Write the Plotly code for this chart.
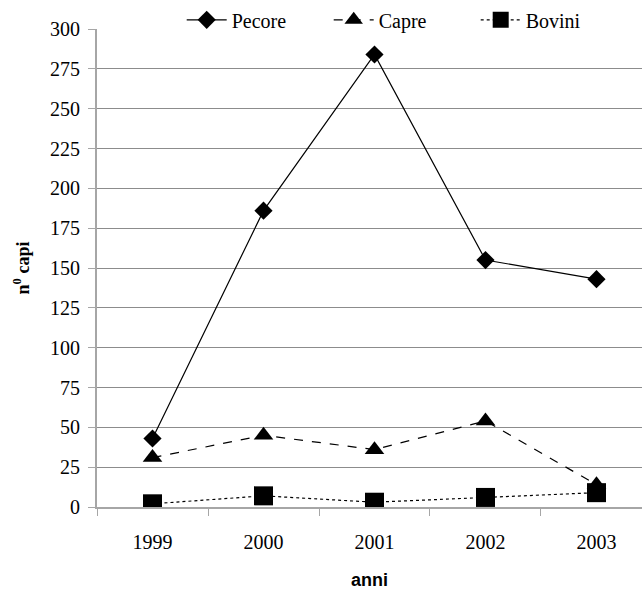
import plotly.graph_objects as go

anni = ["1999", "2000", "2001", "2002", "2003"]
pecore = [43, 186, 284, 155, 143]
capre = [31, 45, 36, 54, 14]
bovini = [2, 7, 3, 6, 9]

serif = "'Liberation Serif', 'Times New Roman', serif"
sans = "'Liberation Sans', Arial, sans-serif"

fig = go.Figure()
fig.add_trace(go.Scatter(
    x=anni, y=pecore, name="Pecore", mode="lines+markers",
    line=dict(color="black", width=1.2, dash="solid"),
    marker=dict(symbol="diamond", size=14, color="black"),
))
fig.add_trace(go.Scatter(
    x=anni, y=capre, name="Capre", mode="lines+markers",
    line=dict(color="black", width=1.2, dash="dash"),
    marker=dict(symbol="triangle-up", size=17, color="black"),
))
fig.add_trace(go.Scatter(
    x=anni, y=bovini, name="Bovini", mode="lines+markers",
    line=dict(color="black", width=1.2, dash="dot"),
    marker=dict(symbol="square", size=19, color="black"),
))

fig.update_layout(
    width=642, height=590,
    margin=dict(l=97, r=0, t=27, b=83),
    paper_bgcolor="white", plot_bgcolor="white",
    font=dict(family=serif, size=20, color="black"),
    showlegend=True,
    legend=dict(
        orientation="h", x=0.56, xanchor="center", y=1.06, yanchor="top",
        bgcolor="white", font=dict(family=serif, size=20),
        itemwidth=40, entrywidth=92, entrywidthmode="pixels", tracegroupgap=0,
    ),
    xaxis=dict(
        type="category", range=[-0.5, 4.41],
        showline=True, linecolor="#a6a6a6", linewidth=2,
        ticks="outside", tickson="boundaries", ticklen=7, tickcolor="#a6a6a6",
        showgrid=False, zeroline=False,
        tickfont=dict(family=serif, size=20),
        ticklabelstandoff=16,
        title=dict(text="<b>anni</b>", font=dict(family=sans, size=18), standoff=22),
    ),
    yaxis=dict(
        range=[0, 300], tickvals=list(range(0, 301, 25)),
        showline=True, linecolor="#a6a6a6", linewidth=2,
        ticks="outside", ticklen=7, tickcolor="#a6a6a6",
        showgrid=True, gridcolor="#8c8c8c", gridwidth=1,
        zeroline=False,
        tickfont=dict(family=serif, size=20),
        ticklabelstandoff=4,
        title=dict(text="<b>n<sup>0</sup> capi</b>", font=dict(family=serif, size=18), standoff=16),
    ),
)

fig.write_html("out.html")
